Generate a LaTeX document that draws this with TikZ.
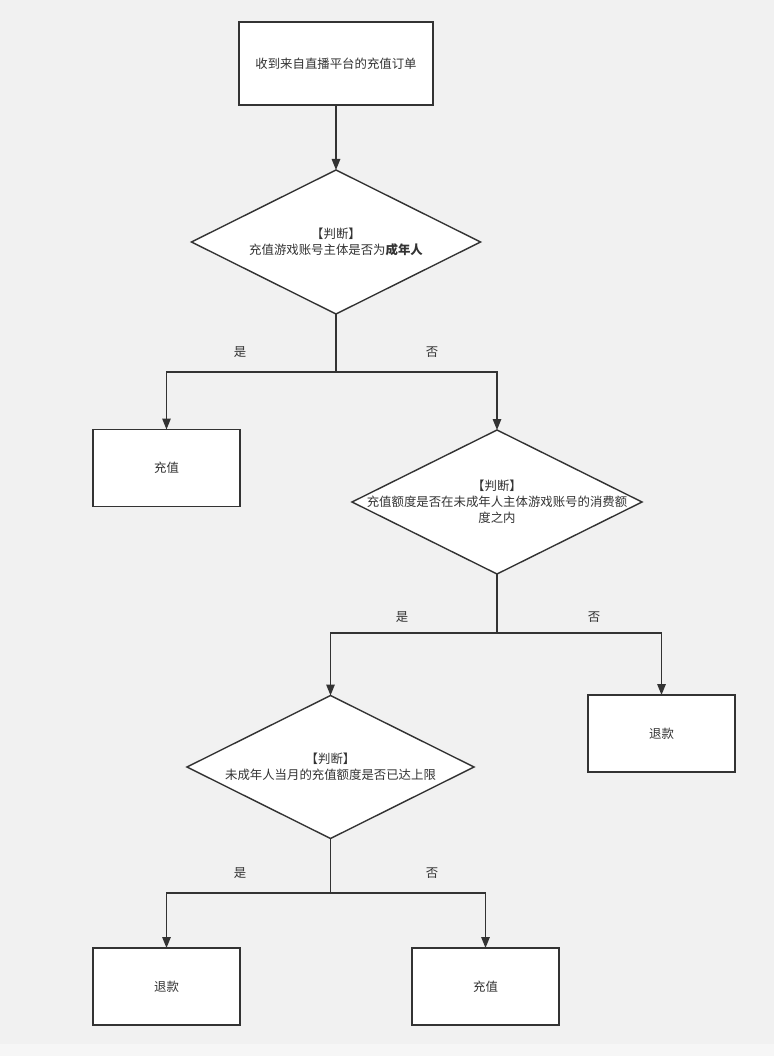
\documentclass[tikz,border=0pt]{standalone}
\usepackage{fontspec}
\newfontfamily\cjk{Noto Sans CJK SC}
\usetikzlibrary{shapes.geometric,arrows.meta}

\definecolor{bgGrau}{HTML}{F1F1F1}
\definecolor{linienGrau}{HTML}{333333}

\tikzset{
  schritt/.style={draw=linienGrau, fill=white, line width=1.4pt, minimum width=147pt, minimum height=77pt, inner sep=0pt, outer sep=0pt},
  entscheidung/.style={diamond, draw=linienGrau, fill=white, line width=1.4pt, inner sep=0pt, outer sep=0pt},
  txt/.style={text=linienGrau, align=center, inner sep=0pt},
  pfeil/.style={draw=linienGrau, line width=1.4pt, -{Triangle[length=11pt,width=8.5pt]}},
  linie/.style={draw=linienGrau, line width=1.4pt}
}

\begin{document}
\begin{tikzpicture}[x=1pt, y=-1pt, font=\cjk\fontsize{12.4}{16}\selectfont]
    % Hintergrund
    \fill[bgGrau] (0,0) rectangle (774,1056);
    \fill[white!35!bgGrau] (0,1044) rectangle (774,1056);
    \useasboundingbox (0,0) rectangle (774,1056);

    % Start
    \node[schritt, minimum width=194pt, minimum height=83pt] (start) at (336,63.5) {};
    \node[txt] (starttxt) at (start) {收到来自直播平台的充值订单};

    % Erste Entscheidung
    \node[entscheidung, minimum width=289pt, minimum height=144pt] (d1) at (336,242) {};
    \node[txt] (d1txt) at (d1) {【判断】\\充值游戏账号主体是否为\textbf{成年人}};
    \draw[pfeil] (start.south) -- (d1.north);

    \node[schritt] (laden1) at (166.5,468) {};
    \node[txt] (laden1txt) at (laden1) {充值};

    % Zweite Entscheidung
    \node[entscheidung, minimum width=290pt, minimum height=144pt] (d2) at (497,502) {};
    \node[txt] (d2txt) at (d2) {【判断】\\充值额度是否在未成年人主体游戏账号的消费额\\度之内};

    \coordinate (v1) at (336,372);
    \draw[linie] (d1.south) -- (v1);
    \draw[pfeil] (v1) -| (laden1.north);
    \draw[pfeil] (v1) -| (d2.north);
    \node[txt] (ja1) at (240,352) {是};
    \node[txt] (nein1) at (432,352) {否};

    \node[schritt] (zurueck1) at (661.5,733.5) {};
    \node[txt] (zurueck1txt) at (zurueck1) {退款};

    % Dritte Entscheidung
    \node[entscheidung, minimum width=287pt, minimum height=143pt] (d3) at (330.5,767) {};
    \node[txt] (d3txt) at (d3) {【判断】\\未成年人当月的充值额度是否已达上限};

    \coordinate (v2) at (497,633);
    \draw[linie] (d2.south) -- (v2);
    \draw[pfeil] (v2) -| (d3.north);
    \draw[pfeil] (v2) -| (zurueck1.north);
    \node[txt] (ja2) at (402,617) {是};
    \node[txt] (nein2) at (594,617) {否};

    \node[schritt] (zurueck2) at (166.5,986.5) {};
    \node[txt] (zurueck2txt) at (zurueck2) {退款};
    \node[schritt] (laden2) at (485.5,986.5) {};
    \node[txt] (laden2txt) at (laden2) {充值};

    \coordinate (v3) at (330.5,893);
    \draw[linie] (d3.south) -- (v3);
    \draw[pfeil] (v3) -| (zurueck2.north);
    \draw[pfeil] (v3) -| (laden2.north);
    \node[txt] (ja3) at (240,873) {是};
    \node[txt] (nein3) at (432,873) {否};

  \end{tikzpicture}
\end{document}
